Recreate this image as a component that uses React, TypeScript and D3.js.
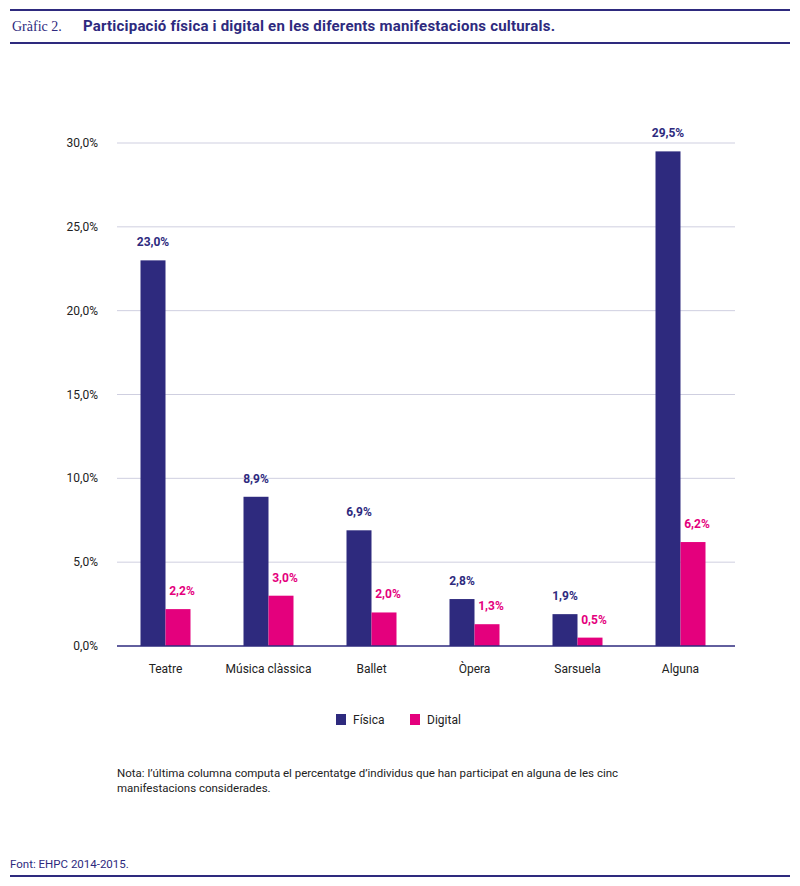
import * as d3 from 'd3';

const categories = ['Teatre', 'Música clàssica', 'Ballet', 'Òpera', 'Sarsuela', 'Alguna'];
const fisica = [23.0, 8.9, 6.9, 2.8, 1.9, 29.5];
const digital = [2.2, 3.0, 2.0, 1.3, 0.5, 6.2];
const yTicks = [0, 5, 10, 15, 20, 25, 30];

const NAVY = '#2e2a7e';
const PINK = '#e4007d';
const font = 'Roboto, "Liberation Sans", sans-serif';
const fmt = (v: number) => v.toFixed(1).replace('.', ',') + '%';

export default function App() {
    const left = 114, right = 732, top = 143, bottom = 646;
    const x = d3.scaleBand<string>().domain(categories).range([left, right]);
    const y = d3.scaleLinear().domain([0, 30]).range([bottom, top]);
    const bw = 25;

    return (
        <svg width={800} height={886} style={{ position: 'absolute', left: 0, top: 0, fontFamily: font }}>
            <line x1={10} x2={790} y1={10} y2={10} stroke={NAVY} strokeWidth={2} />
            <line x1={10} x2={790} y1={43} y2={43} stroke={NAVY} strokeWidth={2} />
            <text x={12} y={31} fontFamily='"Liberation Serif", serif' fontSize={14} fill={NAVY}>Gràfic 2.</text>
            <text x={83} y={31} fontSize={15} fontWeight="bold" fill={NAVY} textLength={472}>Participació física i digital en les diferents manifestacions culturals.</text>

            {yTicks.map(t => (
                <g key={t}>
                    {t > 0 && <line x1={117} x2={735} y1={y(t)} y2={y(t)} stroke="#cfcfe0" strokeWidth={1} />}
                    <text x={98} y={y(t) + 4} fontSize={12} textAnchor="end" fill="#222">{fmt(t)}</text>
                </g>
            ))}

            {categories.map((c, i) => {
                const cx = x(c)! + x.bandwidth() / 2;
                return (
                    <g key={c}>
                        <rect x={cx - bw} y={y(fisica[i])} width={bw} height={bottom - y(fisica[i])} fill={NAVY} />
                        <rect x={cx} y={y(digital[i])} width={bw} height={bottom - y(digital[i])} fill={PINK} />
                        <text x={cx - bw / 2} y={y(fisica[i]) - 14} fontSize={12} fontWeight="bold" textAnchor="middle" fill={NAVY}>{fmt(fisica[i])}</text>
                        <text x={cx + bw / 2 + 4} y={y(digital[i]) - 14} fontSize={12} fontWeight="bold" textAnchor="middle" fill={PINK}>{fmt(digital[i])}</text>
                        <text x={cx} y={673} fontSize={12} textAnchor="middle" fill="#222">{c}</text>
                    </g>
                );
            })}
            <line x1={117} x2={735} y1={bottom} y2={bottom} stroke={NAVY} strokeWidth={1.5} />

            <rect x={336} y={714} width={10} height={11} fill={NAVY} />
            <text x={353} y={724} fontSize={12} fill="#222">Física</text>
            <rect x={410} y={714} width={10} height={11} fill={PINK} />
            <text x={427} y={724} fontSize={12} fill="#222">Digital</text>

            <text x={117} y={777} fontSize={11.5} fill="#222">Nota: l’última columna computa el percentatge d’individus que han participat en alguna de les cinc</text>
            <text x={117} y={792} fontSize={11.5} fill="#222">manifestacions considerades.</text>

            <text x={10} y={868} fontSize={11.5} fill={NAVY}>Font: EHPC 2014-2015.</text>
            <line x1={10} x2={790} y1={876} y2={876} stroke={NAVY} strokeWidth={2} />
        </svg>
    );
}
